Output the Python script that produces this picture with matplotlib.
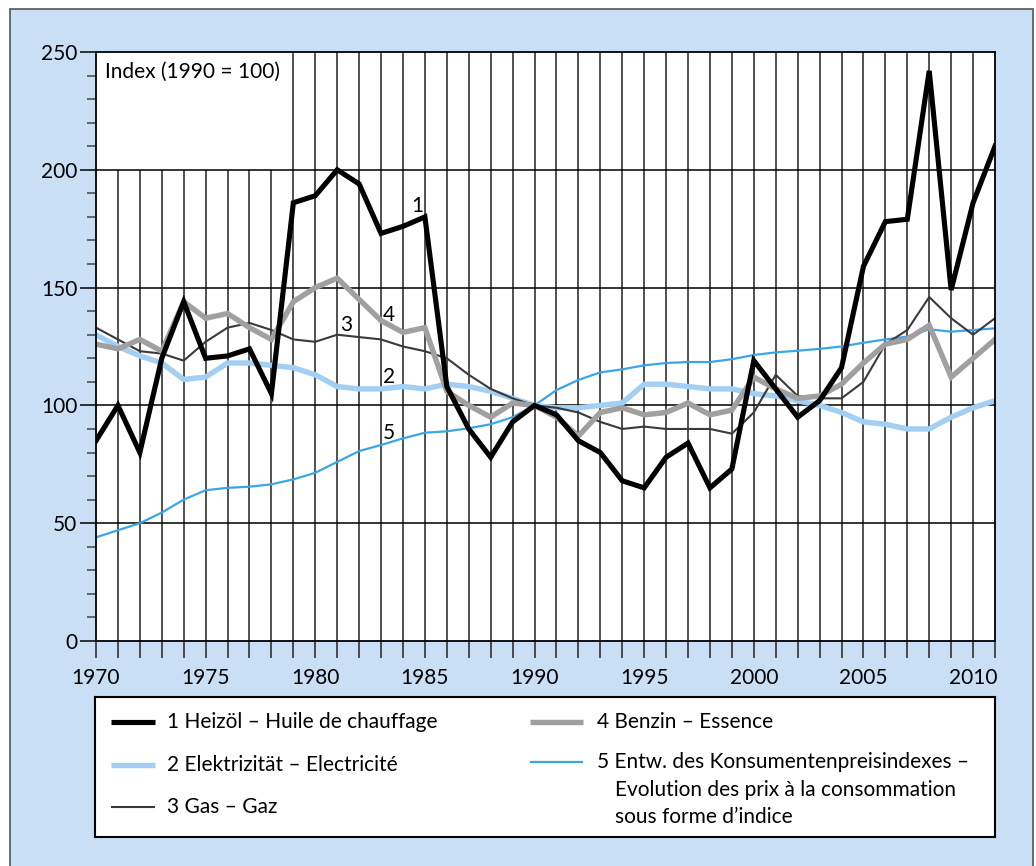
import matplotlib.pyplot as plt
import matplotlib.patches as mpatches
import numpy as np

plt.rcParams['font.family'] = ['Lato', 'DejaVu Sans']

years = np.arange(1970, 2012)

# 1 Heizöl – Huile de chauffage
heizoel = [85, 100, 80, 120, 144, 120, 121, 124, 105, 186, 189, 200, 194, 173, 176, 180,
           108, 90, 78, 93, 100, 96, 85, 80, 68, 65, 78, 84, 65, 73, 119, 107, 95, 102, 116, 159,
           178, 179, 242, 149, 186, 210]
# 2 Elektrizität – Electricité
elektr = [130, 125, 121, 118, 111, 112, 118, 118, 117, 116, 113, 108, 107, 107, 108, 107,
          109, 108, 106, 103, 100, 99, 99, 100, 101, 109, 109, 108, 107, 107, 105, 104, 102, 100,
          97, 93, 92, 90, 90, 95, 99, 102]
# 3 Gas – Gaz
gas = [133, 128, 123, 122, 119, 127, 133, 135, 132, 128, 127, 130, 129, 128, 125, 123,
       120, 113, 107, 103, 100, 99, 97, 93, 90, 91, 90, 90, 90, 88, 97, 113, 104, 103, 103, 110,
       126, 132, 146, 137, 130, 137]
# 4 Benzin – Essence
benzin = [126, 124, 128, 123, 144, 137, 139, 133, 128, 144, 150, 154, 145, 136, 131, 133,
          106, 100, 95, 101, 100, 95, 87, 97, 99, 96, 97, 101, 96, 98, 112, 107, 103, 104, 109, 118,
          126, 128, 134, 112, 120, 128]
# 5 Konsumentenpreisindex
lik = [44, 47, 50, 54.5, 60, 64, 65, 65.5, 66.5, 68.6, 71.4, 76, 80.6, 83.2, 86, 88.4,
       89, 90.3, 92, 95, 100, 106.5, 110.8, 114, 115.3, 117, 118, 118.4, 118.4, 119.6, 121.4,
       122.5, 123.2, 124, 125, 126.6, 128, 129.2, 132.3, 131.3, 132, 132.7]

labels = ['1 Heizöl – Huile de chauffage', '2 Elektrizität – Electricité', '3 Gas – Gaz',
          '4 Benzin – Essence', '5 Entw. des Konsumentenpreisindexes –']
label5_more = ['Evolution des prix à la consommation', 'sous forme d’indice']

bg = '#c8dff5'
c_oil, c_el, c_gas, c_benz, c_lik = '#000000', '#a3cff2', '#3a3a3a', '#a0a0a0', '#3aa6e8'
fs = 15

W, H = 1036, 866
fig = plt.figure(figsize=(W / 100, H / 100), dpi=100, facecolor='white')
fig.patches.append(mpatches.Rectangle((10 / W, -0.02), (1033 - 10) / W, 1.02 - 9 / H,
                                      transform=fig.transFigure, facecolor=bg,
                                      edgecolor='#555555', lw=1.2, zorder=-10))

ax = fig.add_axes([96 / W, 1 - 641 / H, 899 / W, 589 / H])
ax.set_xlim(1970, 2011)
ax.set_ylim(0, 250)

# grid: short lines under the index box, long lines elsewhere
ax.vlines(years[1:9], 0, 200, color='#222222', lw=1.1, zorder=1)
ax.vlines(years[9:-1], 0, 250, color='#222222', lw=1.1, zorder=1)
ax.hlines([50, 100, 150, 200], 1970, 2011, color='black', lw=1.1, zorder=1)

ax.plot(years, lik, color=c_lik, lw=1.6, zorder=3)
ax.plot(years, gas, color=c_gas, lw=1.5, zorder=4)
ax.plot(years, elektr, color=c_el, lw=3.9, zorder=3, solid_joinstyle='round')
ax.plot(years, benzin, color=c_benz, lw=3.9, zorder=5, solid_joinstyle='miter')
ax.plot(years, heizoel, color=c_oil, lw=3.7, zorder=6, solid_joinstyle='miter')

ax.text(1984.65, 184.5, '1', fontsize=fs, ha='center', va='center')
ax.text(1983.35, 112, '2', fontsize=fs, ha='center', va='center')
ax.text(1981.4, 134, '3', fontsize=fs, ha='center', va='center')
ax.text(1983.35, 138.4, '4', fontsize=fs, ha='center', va='center')
ax.text(1983.35, 88.4, '5', fontsize=fs, ha='center', va='center')
ax.text(1970.43, 241.6, 'Index (1990 = 100)', fontsize=fs, ha='left', va='center')

ax.set_xticks(years)
ax.set_xticklabels([str(y) if y % 5 == 0 else '' for y in years])
ax.set_yticks(np.arange(0, 251, 50))
ax.set_yticks(np.arange(0, 251, 10), minor=True)
ax.tick_params(axis='x', direction='out', length=12.5, width=1.1, color='#222222',
               labelsize=fs, pad=7)
ax.tick_params(axis='y', which='major', direction='out', length=11.5, width=1.1,
               labelsize=fs, pad=2)
ax.tick_params(axis='y', which='minor', direction='out', length=6.5, width=1.1,
               color='#444444')
for s in ax.spines.values():
    s.set_linewidth(1.3)
    s.set_zorder(7)

# legend box
lg = fig.add_axes([95 / W, 1 - 837 / H, 900 / W, 140 / H])
lg.set_xlim(0, 900)
lg.set_ylim(140, 0)
lg.set_xticks([])
lg.set_yticks([])
for s in lg.spines.values():
    s.set_linewidth(1.5)

entries = [(16, 60, 72, 25, c_oil, 3.7), (16, 60, 72, 68, c_el, 3.9), (16, 60, 72, 110, c_gas, 1.5),
           (435, 488, 502, 25, c_benz, 3.9), (435, 488, 502, 65, c_lik, 1.6)]
for (x0, x1, xt, yy, col, lw), lab in zip(entries, labels):
    lg.plot([x0, x1], [yy, yy], color=col, lw=lw, solid_capstyle='butt')
    lg.text(xt, yy, lab, fontsize=fs, ha='left', va='center')
for yy, lab in zip([93, 120], label5_more):
    lg.text(520, yy, lab, fontsize=fs, ha='left', va='center')

fig.savefig('out.png', dpi=100, facecolor='white')
